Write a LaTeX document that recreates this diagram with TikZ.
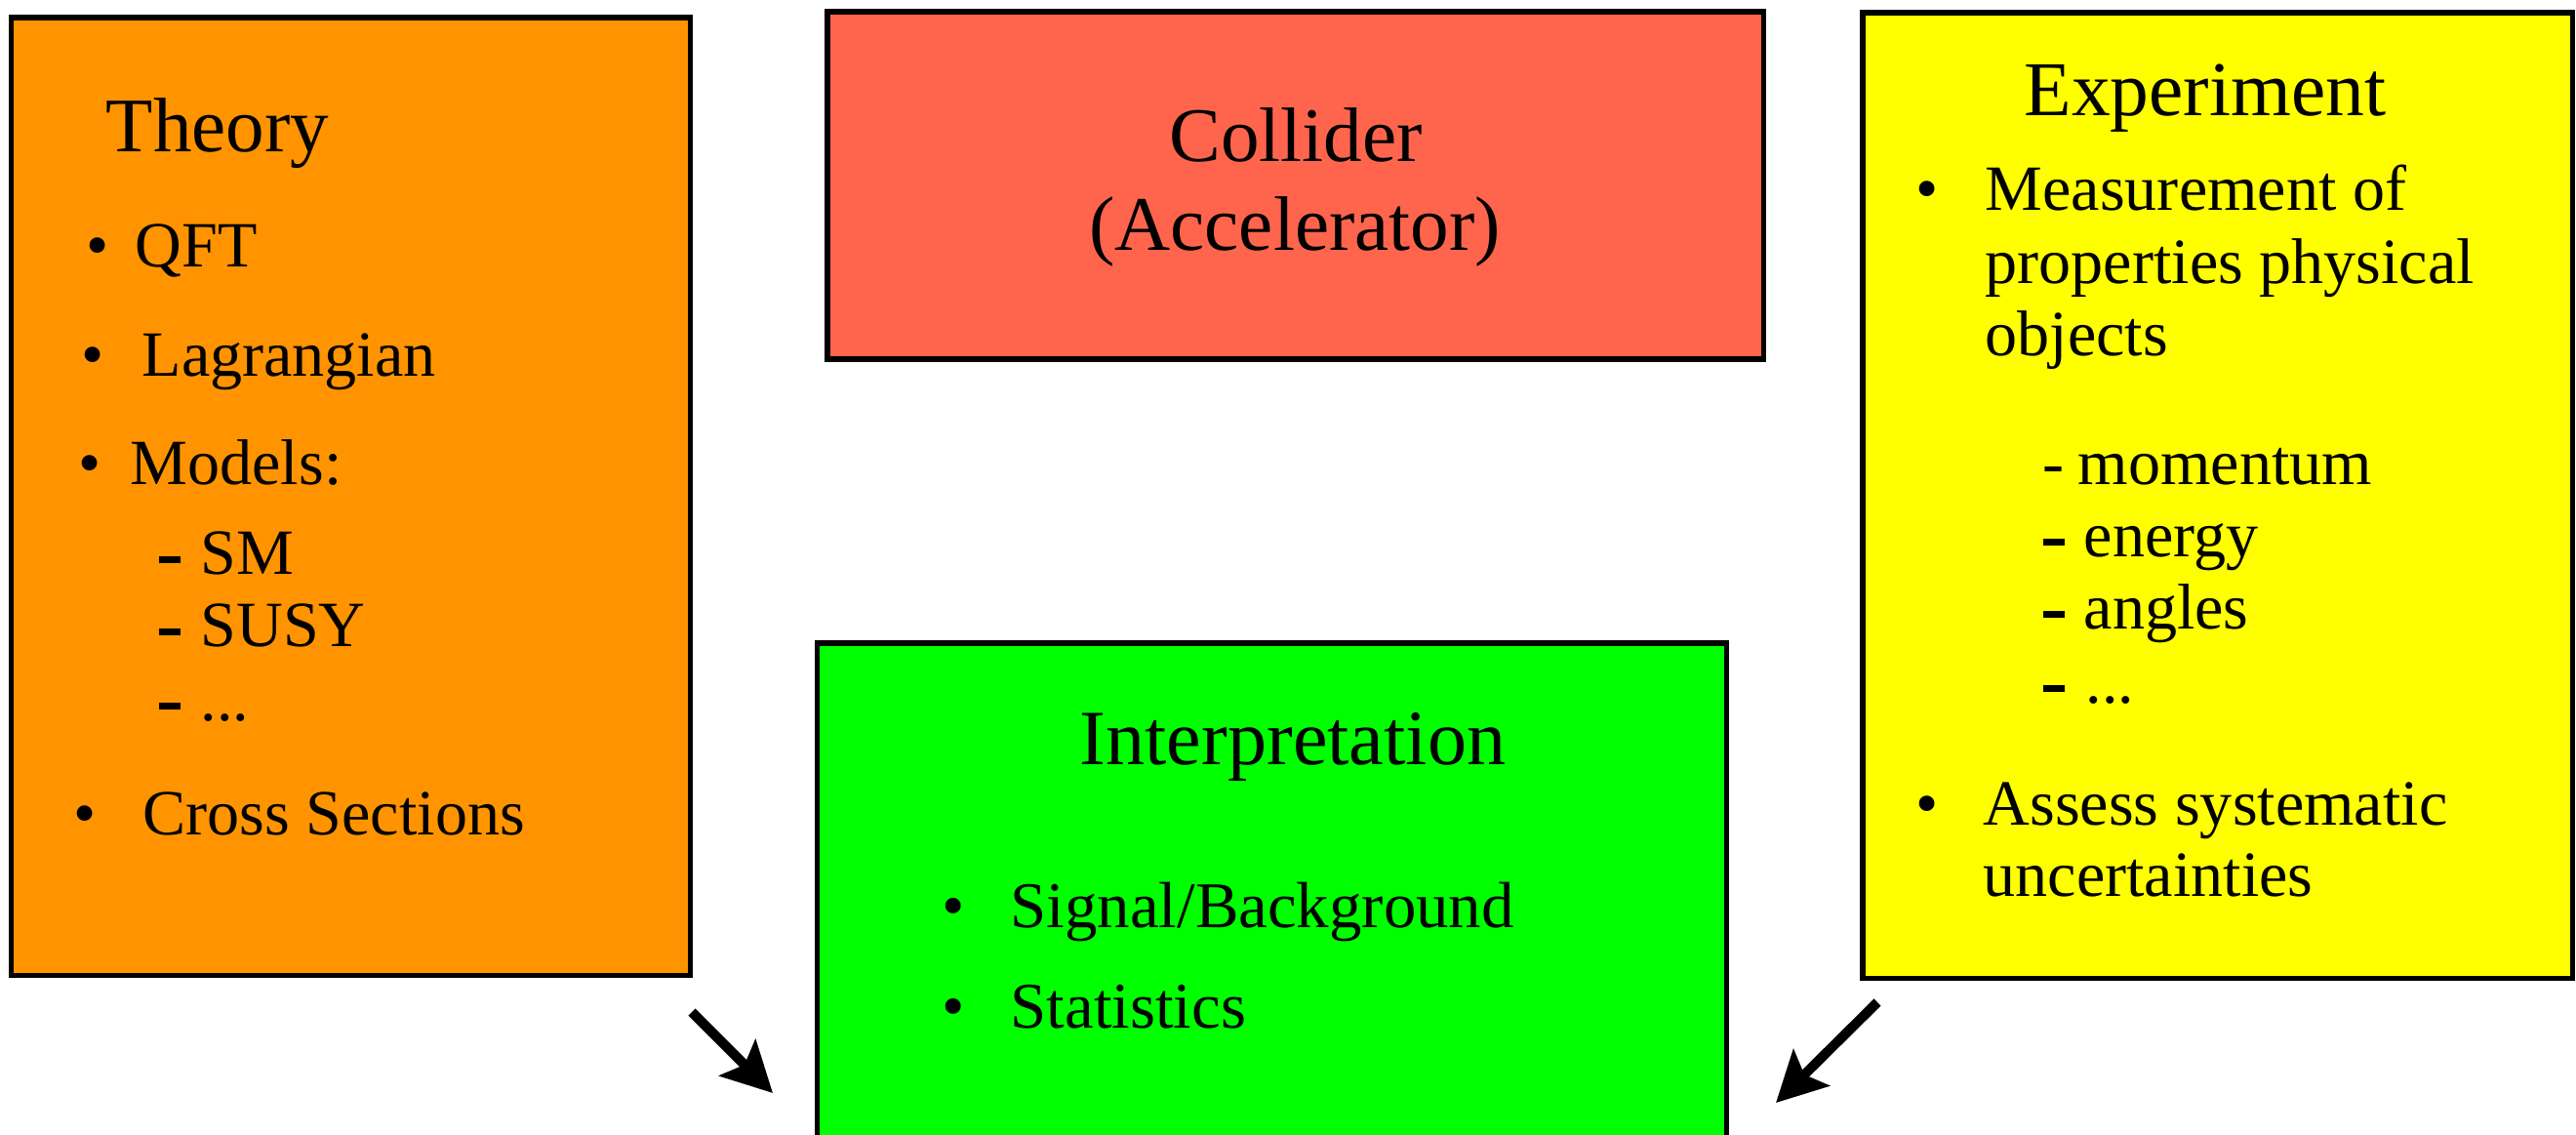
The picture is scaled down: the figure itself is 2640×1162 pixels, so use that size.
\documentclass[tikz,border=0pt]{standalone}
\usepackage{fontspec}
\setmainfont{Liberation Serif}
\usetikzlibrary{arrows.meta}
\definecolor{theoryC}{HTML}{FF9400}
\definecolor{colliderC}{HTML}{FF654C}
\definecolor{expC}{HTML}{FFFF00}
\definecolor{interpC}{HTML}{00FF00}
\newcommand{\thickdash}{\rule[0.17em]{0.33em}{0.11em}}
\begin{document}
\begin{tikzpicture}[x=0.01cm,y=-0.01cm,
  box/.style={draw=black, line width=0.055cm, anchor=north west, inner sep=0, outer sep=0},
  title/.style={anchor=base, inner sep=0, font=\fontsize{22.5}{27}\selectfont},
  item/.style={anchor=base west, inner sep=0, font=\fontsize{18.8}{22}\selectfont},
  bul/.style={anchor=base, inner sep=0, font=\fontsize{18.8}{22}\selectfont},
  iitem/.style={anchor=base west, inner sep=0, font=\fontsize{19.0}{23}\selectfont},
  ibul/.style={anchor=base, inner sep=0, font=\fontsize{19.0}{23}\selectfont},
  flow/.style={line width=0.1cm, -{Stealth[length=0.51cm,width=0.52cm,inset=0.1cm]}}
]
\useasboundingbox (0,0) rectangle (2640,1162);
\begin{scope}
\clip (0,0) rectangle (2640,1162);
% boxes
\node[box, fill=theoryC, minimum width=6.955cm, minimum height=9.81cm] (theory) at (11.5,18) {};
\node[box, fill=colliderC, minimum width=9.59cm, minimum height=3.56cm] (collider) at (848,12) {};
\node[box, fill=expC, minimum width=7.27cm, minimum height=9.89cm] (exp) at (1909,13) {};
\node[box, fill=interpC, minimum width=9.315cm, minimum height=6.0cm] (interp) at (837.5,659) {};
\end{scope}

% Theory
\node[title] (tTitle) at (223,155) {Theory};
\node[bul] (tb1) at (100,273) {•};
\node[item] (t1) at (138,273) {QFT};
\node[bul] (tb2) at (95,385) {•};
\node[item] (t2) at (145,385) {Lagrangian};
\node[bul] (tb3) at (92,496) {•};
\node[item] (t3) at (133,496) {Models:};
\node[item] (td1) at (162,588) {\thickdash};
\node[item] (t4) at (205,588) {SM};
\node[item] (td2) at (162,662) {\thickdash};
\node[item] (t5) at (205,662) {SUSY};
\node[item] (td3) at (162,738) {\thickdash};
\node[item] (t6) at (205,738) {...};
\node[bul] (tb4) at (87,855) {•};
\node[item] (t7) at (146,855) {Cross Sections};

% Collider
\node[title] (c1) at (1328,165) {Collider};
\node[title] (c2) at (1327,256) {(Accelerator)};

% Experiment
\node[title, font=\fontsize{22.6}{27}\selectfont] (eTitle) at (2260,118) {Experiment};
\node[bul] (eb1) at (1975,215) {•};
\node[item] (e1) at (2034,215) {Measurement of};
\node[item] (e2) at (2034,290) {properties physical};
\node[item] (e3) at (2034,364) {objects};
\node[item] (ed1) at (2093,496) {-};
\node[item] (e4) at (2129,496) {momentum};
\node[item] (ed2) at (2093,570) {\thickdash};
\node[item] (e5) at (2135,570) {energy};
\node[item] (ed3) at (2093,644) {\thickdash};
\node[item] (e6) at (2135,644) {angles};
\node[item] (ed4) at (2093,720) {\thickdash};
\node[item] (e7) at (2137,720) {...};
\node[bul] (eb2) at (1975,845) {•};
\node[item] (e8) at (2032,845) {Assess systematic};
\node[item] (e9) at (2032,918) {uncertainties};

% Interpretation
\node[title, font=\fontsize{22.8}{27}\selectfont] (iTitle) at (1325,783) {Interpretation};
\node[ibul] (ib1) at (977,950) {•};
\node[iitem] (i1) at (1035,950) {Signal/Background};
\node[ibul] (ib2) at (977,1053) {•};
\node[iitem] (i2) at (1035,1053) {Statistics};

% arrows
\coordinate (aTail1) at (709,1037);
\coordinate (aHead1) at (792,1120);
\coordinate (aTail2) at (1924,1027);
\coordinate (aHead2) at (1820,1130);
\draw[flow] (aTail1) -- (aHead1);
\draw[flow] (aTail2) -- (aHead2);
\end{tikzpicture}
\end{document}
